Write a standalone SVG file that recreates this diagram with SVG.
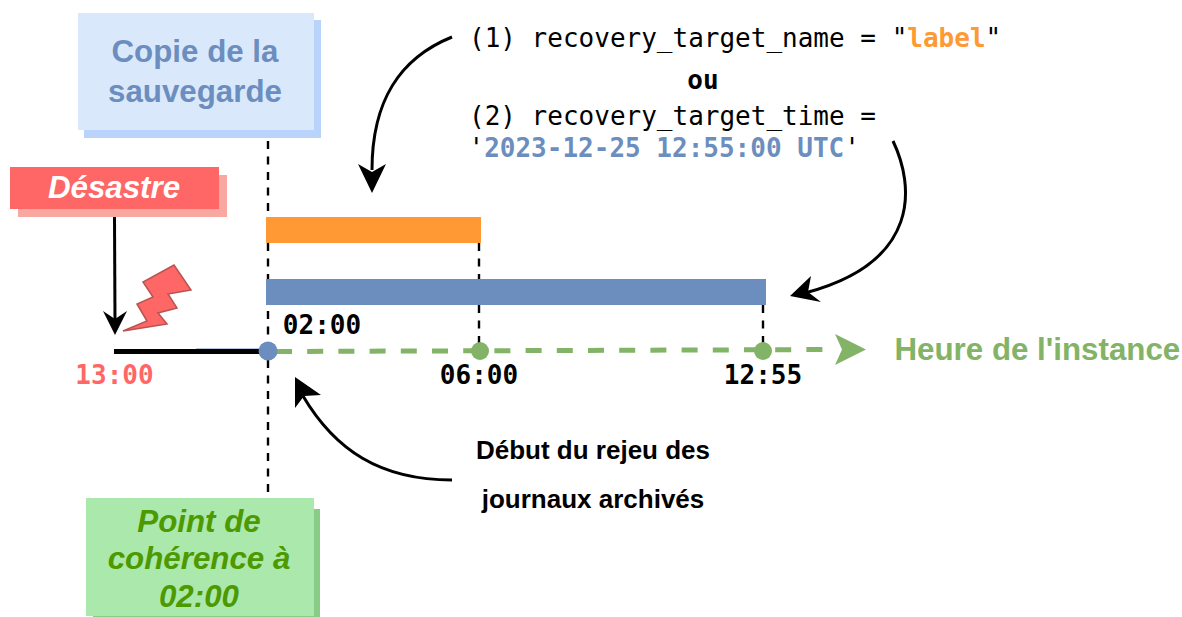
<svg xmlns="http://www.w3.org/2000/svg" width="1182" height="617" viewBox="0 0 1182 617">
<style>
.s{font-family:"Liberation Sans",Arial,sans-serif}
.m{font-family:"DejaVu Sans Mono",monospace;font-size:26px}
.b{font-weight:700}
.i{font-style:italic;font-weight:700}
.d{fill:none;stroke:#000;stroke-width:2.4;stroke-dasharray:8 7.5}
.c{fill:none;stroke:#000;stroke-width:3}
</style>
<rect width="1182" height="617" fill="#fff"/>
<g id="connectors">
<path class="d" d="M268 141V217"/>
<path class="d" d="M268 243V279"/>
<path class="d" d="M268 311V342"/>
<path class="d" d="M268 360V497"/>
<path class="d" d="M479 243V343"/>
<path class="d" d="M763 305V343"/>
<path d="M196 349.500H268" stroke="#6c8ebf" stroke-width="2" fill="none"/>
<path d="M114 351.500H262" stroke="#000" stroke-width="5" fill="none"/>
<path d="M276 351.500L835 349.500" stroke="#82b366" stroke-width="5" stroke-dasharray="16 15.200" fill="none"/>
<path d="M835 334L866 349.500L835 365L842 349.500Z" fill="#82b366"/>
<path class="c" d="M114.500 217L115 320"/>
<path d="M115 335L103 311L115 319L127 311Z"/>
<path class="c" d="M452 37C400 58 372 100 372 170"/>
<path d="M372 193L358 164L372 172L386 164Z"/>
<path class="c" d="M893 141C914 185 922 262 805 293"/>
<path d="M790 296L811 276L808 292L821 302Z"/>
<path class="c" d="M452 480C380 480 335 450 303 396"/>
<path d="M295 377L321 395L304 396L295 408Z"/>
</g>
<g id="orange-bar"><rect x="266" y="217" width="215" height="26" fill="#ff9933"/></g>
<g id="blue-bar"><rect x="266" y="279" width="500" height="26" fill="#6c8ebf"/></g>
<g id="dot-0200"><circle cx="268" cy="351" r="9.500" fill="#6c8ebf"/></g>
<g id="dot-0600"><circle cx="480" cy="351" r="9" fill="#82b366"/></g>
<g id="dot-1255"><circle cx="763" cy="351" r="9" fill="#82b366"/></g>
<g id="copie">
<rect x="84" y="20" width="237" height="118" fill="#b9d3fb"/>
<rect x="78" y="13" width="236" height="117" fill="#dae8fc"/>
<text class="s b" font-size="31.300" fill="#6c8ebf" text-anchor="middle" x="195" y="62">Copie de la</text>
<text class="s b" font-size="31.300" fill="#6c8ebf" text-anchor="middle" x="195" y="102">sauvegarde</text>
</g>
<g id="desastre">
<rect x="18" y="175" width="209" height="42" fill="#f8a8a0"/>
<rect x="10" y="167" width="209" height="42" fill="#ff6666"/>
<text class="s i" font-size="31.300" fill="#fff" text-anchor="middle" x="114" y="198">Désastre</text>
</g>
<g id="eclair">
<path d="M123 331L167 324L158 313L177 308L168 294L191 290L174 265L143 282L153 297L137 304L147 321Z" fill="#ff6666" stroke="#b85450" stroke-width="1.500"/>
</g>
<g id="point">
<rect x="93" y="509" width="227" height="108" fill="#88cc88"/>
<rect x="86" y="498" width="228" height="118" fill="#abe8ab"/>
<text class="s i" font-size="31.300" fill="#4d9900" text-anchor="middle" x="199" y="532">Point de</text>
<text class="s i" font-size="31.300" fill="#4d9900" text-anchor="middle" x="199" y="569">cohérence à</text>
<text class="s i" font-size="31.300" fill="#4d9900" text-anchor="middle" x="199" y="607">02:00</text>
</g>
<g id="textes">
<text class="m" x="469" y="47">(1) recovery_target_name = "<tspan class="b" fill="#ff9933">label</tspan>"</text>
<text class="m b" x="703" y="89" text-anchor="middle">ou</text>
<text class="m" x="469" y="125">(2) recovery_target_time =</text>
<text class="m" x="468.500" y="157">'<tspan class="b" fill="#6c8ebf">2023-12-25 12:55:00 UTC</tspan>'</text>
<text class="m b" x="322" y="334" text-anchor="middle">02:00</text>
<text class="m b" fill="#ff6666" x="114.500" y="384" text-anchor="middle">13:00</text>
<text class="m b" x="479" y="384" text-anchor="middle">06:00</text>
<text class="m b" x="763" y="384" text-anchor="middle">12:55</text>
<text class="s b" font-size="31.300" fill="#82b366" x="894.500" y="360">Heure de l'instance</text>
<text class="s b" font-size="26" x="593" y="459" text-anchor="middle">Début du rejeu des</text>
<text class="s b" font-size="26" x="593" y="508" text-anchor="middle">journaux archivés</text>
</g>
</svg>
